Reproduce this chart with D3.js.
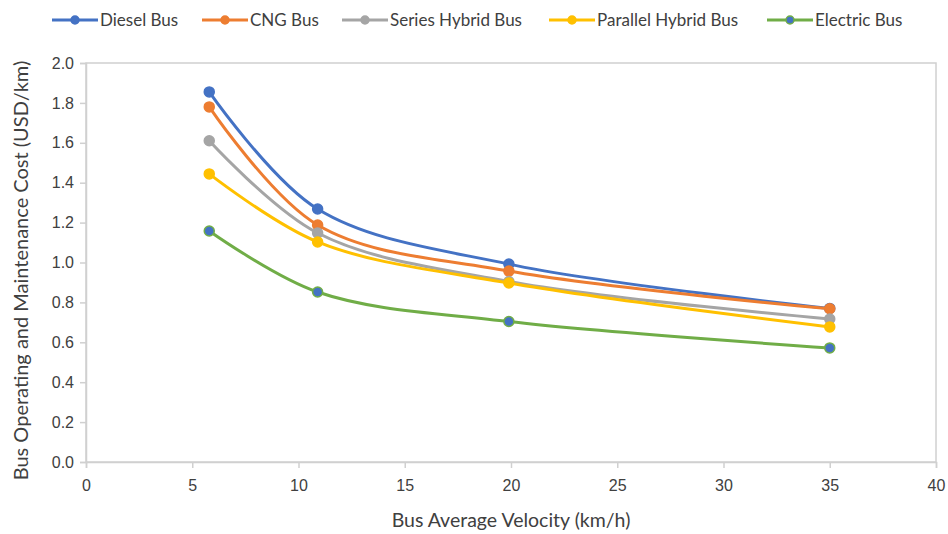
<!DOCTYPE html>
<html>
<head>
<meta charset="utf-8">
<script src="https://cdn.jsdelivr.net/npm/d3@7"></script>
<style>
  html, body { margin: 0; padding: 0; background: #fff; }
  svg { display: block; font-family: Lato, "Open Sans", sans-serif; }
</style>
</head>
<body>
<svg id="chart" width="948" height="534"></svg>
<script>
// Average bus velocity (km/h) at each measured operating point
const velocity = [5.8, 10.9, 19.9, 35.0];

// Operating and maintenance cost (USD/km) per bus technology
const dieselCost   = [1.855, 1.268, 0.992, 0.770];
const cngCost      = [1.780, 1.188, 0.957, 0.768];
const seriesCost   = [1.610, 1.148, 0.905, 0.717];
const parallelCost = [1.444, 1.103, 0.897, 0.677];
const electricCost = [1.158, 0.852, 0.704, 0.572];

const seriesNames = ["Diesel Bus", "CNG Bus", "Series Hybrid Bus", "Parallel Hybrid Bus", "Electric Bus"];
const seriesValues = [dieselCost, cngCost, seriesCost, parallelCost, electricCost];
const seriesColors = ["#4472C4", "#ED7D31", "#A5A5A5", "#FFC000", "#70AD47"];
const markerFills  = ["#4472C4", "#ED7D31", "#A5A5A5", "#FFC000", "#4472C4"];

const xTicks = [0, 5, 10, 15, 20, 25, 30, 35, 40];
const yTicks = [0, 0.2, 0.4, 0.6, 0.8, 1.0, 1.2, 1.4, 1.6, 1.8, 2.0];

const svg = d3.select("#chart");
const plot = { left: 86, right: 936, top: 63, bottom: 462 };

const x = d3.scaleLinear().domain([0, 40]).range([plot.left, plot.right]);
const y = d3.scaleLinear().domain([0, 2.0]).range([plot.bottom, plot.top]);

const axisColor = "#D0D0D0";
const textColor = "#404040";

// Plot-area frame
svg.append("rect")
  .attr("x", plot.left).attr("y", plot.top)
  .attr("width", plot.right - plot.left).attr("height", plot.bottom - plot.top)
  .attr("fill", "none").attr("stroke", axisColor).attr("stroke-width", 1.5);

// Axes
const xAxis = svg.append("g")
  .attr("transform", `translate(0,${plot.bottom})`)
  .call(d3.axisBottom(x).tickValues(xTicks).tickFormat(d3.format("d")).tickSizeOuter(0).tickSize(6).tickPadding(12));
const yAxis = svg.append("g")
  .attr("transform", `translate(${plot.left},0)`)
  .call(d3.axisLeft(y).tickValues(yTicks).tickFormat(d3.format(".1f")).tickSizeOuter(0).tickSize(6).tickPadding(6));

[xAxis, yAxis].forEach(g => {
  g.select(".domain").attr("stroke", axisColor).attr("stroke-width", 1.5);
  g.selectAll(".tick line").attr("stroke", axisColor).attr("stroke-width", 1.5);
  g.selectAll(".tick text").attr("fill", textColor).style("font-size", "16px");
});

// Axis titles
svg.append("text")
  .attr("x", (plot.left + plot.right) / 2).attr("y", 527)
  .attr("text-anchor", "middle").attr("fill", textColor)
  .style("font-size", "19.5px")
  .text("Bus Average Velocity (km/h)");

svg.append("text")
  .attr("transform", `translate(28,${(plot.top + plot.bottom) / 2 + 8}) rotate(-90)`)
  .attr("text-anchor", "middle").attr("fill", textColor)
  .style("font-size", "20px")
  .text("Bus Operating and Maintenance Cost (USD/km)");

// Smoothed cost curves with markers
const line = d3.line()
  .x((d, i) => x(velocity[i]))
  .y(d => y(d))
  .curve(d3.curveCatmullRom.alpha(0.5));

seriesValues.forEach((vals, s) => {
  const g = svg.append("g");
  g.append("path")
    .attr("d", line(vals))
    .attr("fill", "none")
    .attr("stroke", seriesColors[s])
    .attr("stroke-width", 3)
    .attr("stroke-linejoin", "round");
  g.selectAll("circle")
    .data(vals)
    .join("circle")
    .attr("cx", (d, i) => x(velocity[i]))
    .attr("cy", d => y(d))
    .attr("r", 5)
    .attr("fill", markerFills[s])
    .attr("stroke", seriesColors[s])
    .attr("stroke-width", 1.5);
});

// Legend across the top
const legend = svg.append("g").attr("transform", "translate(0,20)");
const legendStarts = [52, 202, 342, 549, 767];
seriesNames.forEach((name, s) => {
  const item = legend.append("g").attr("transform", `translate(${legendStarts[s]},0)`);
  item.append("line")
    .attr("x1", 0).attr("x2", 46).attr("y1", 0).attr("y2", 0)
    .attr("stroke", seriesColors[s]).attr("stroke-width", 3);
  item.append("circle")
    .attr("cx", 23).attr("cy", 0).attr("r", 4)
    .attr("fill", markerFills[s]).attr("stroke", seriesColors[s]).attr("stroke-width", 1.5);
  item.append("text")
    .attr("x", 48).attr("y", 6)
    .attr("fill", textColor)
    .style("font-size", "17px")
    .text(name);
});
</script>
</body>
</html>
